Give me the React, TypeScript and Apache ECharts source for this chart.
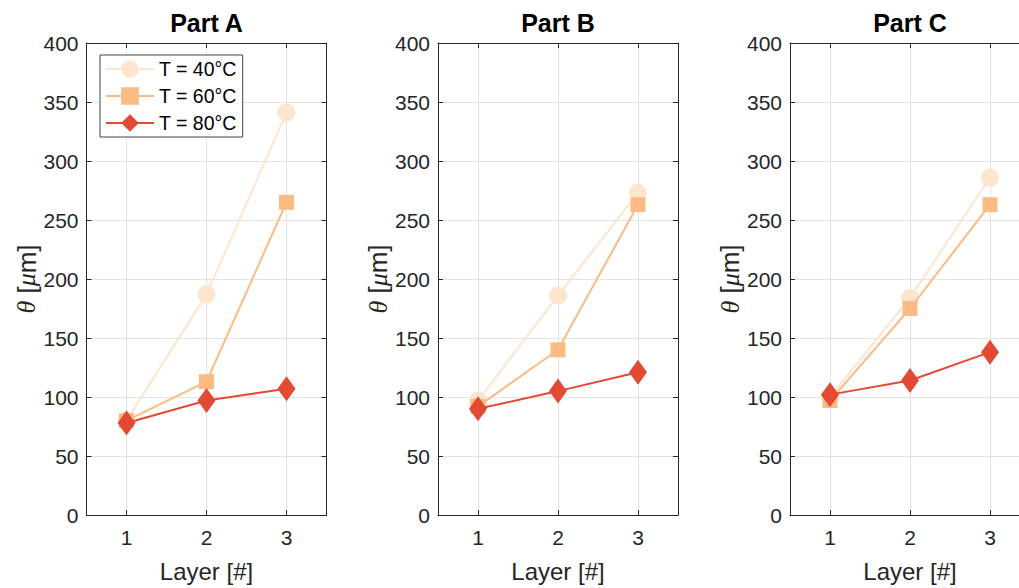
import React, { useEffect, useRef } from 'react';
import * as echarts from 'echarts';

const layers = ['1', '2', '3'];
const panelTitles = ['Part A', 'Part B', 'Part C'];
const seriesNames = ['T = 40°C', 'T = 60°C', 'T = 80°C'];

const partA40 = [80, 187, 341];
const partA60 = [80, 113, 265];
const partA80 = [78, 97, 107];

const partB40 = [97, 186, 273];
const partB60 = [92, 140, 263];
const partB80 = [90, 105, 121];

const partC40 = [100, 184, 286];
const partC60 = [97, 175, 263];
const partC80 = [102, 114, 138];

const yMin = 0;
const yMax = 400;
const yStep = 50;

const panels = [
  [partA40, partA60, partA80],
  [partB40, partB60, partB80],
  [partC40, partC60, partC80],
];

const colors = ['#FEE6CE', '#FDBB84', '#E34A33'];
const symbols = ['circle', 'rect', 'diamond'];
const symbolSizes: any[] = [18, 15, [18, 25]];

const FONT = '"Liberation Sans", Helvetica, Arial, sans-serif';
const AX = '#262626';
const GRIDC = '#e4e4e4';

export default function App() {
  const ref = useRef<HTMLDivElement>(null);
  useEffect(() => {
    const chart = echarts.init(ref.current!, null, { renderer: 'svg' });
    const lefts = [86.5, 438, 790];
    const top = 43;
    const w = 240;
    const h = 474.5;

    const grid: any[] = [];
    const xAxis: any[] = [];
    const yAxis: any[] = [];
    const series: any[] = [];
    const graphic: any[] = [];

    panels.forEach((panel, i) => {
      grid.push({ left: lefts[i], top, width: w, height: h, containLabel: false });
      const tickStyle = { color: AX, width: 1 };
      xAxis.push({
        type: 'category',
        gridIndex: i,
        data: layers,
        boundaryGap: true,
        position: 'bottom',
        axisLine: { show: true, onZero: false, lineStyle: tickStyle },
        axisTick: { show: true, inside: true, alignWithLabel: true, length: 5, lineStyle: tickStyle },
        axisLabel: { fontSize: 21, color: AX, margin: 12, fontFamily: FONT },
        splitLine: { show: true, alignWithLabel: true, lineStyle: { color: GRIDC, width: 1 } },
        name: 'Layer [#]',
        nameLocation: 'middle',
        nameGap: 44,
        nameTextStyle: { fontSize: 24, color: AX, fontFamily: FONT },
      });
      xAxis.push({
        type: 'category',
        gridIndex: i,
        data: layers,
        boundaryGap: true,
        position: 'top',
        axisLine: { show: true, onZero: false, lineStyle: tickStyle },
        axisTick: { show: true, inside: true, alignWithLabel: true, length: 5, lineStyle: tickStyle },
        axisLabel: { show: false },
        splitLine: { show: false },
      });
      yAxis.push({
        type: 'value',
        gridIndex: i,
        min: yMin,
        max: yMax,
        interval: yStep,
        position: 'left',
        axisLine: { show: true, onZero: false, lineStyle: tickStyle },
        axisTick: { show: true, inside: true, length: 5, lineStyle: tickStyle },
        axisLabel: { fontSize: 21, color: AX, margin: 8, fontFamily: FONT },
        splitLine: { show: true, lineStyle: { color: GRIDC, width: 1 } },
        name: '{i|θ} [{i|μ}m]',
        nameLocation: 'middle',
        nameGap: 46,
        nameTextStyle: {
          fontSize: 26,
          color: AX,
          fontFamily: FONT,
          rich: {
            i: { fontSize: 26, fontStyle: 'italic', fontFamily: '"Liberation Serif", "DejaVu Serif", serif', color: AX },
          },
        },
      });
      yAxis.push({
        type: 'value',
        gridIndex: i,
        min: yMin,
        max: yMax,
        interval: yStep,
        position: 'right',
        axisLine: { show: true, onZero: false, lineStyle: tickStyle },
        axisTick: { show: true, inside: true, length: 5, lineStyle: tickStyle },
        axisLabel: { show: false },
        splitLine: { show: false },
      });
      panel.forEach((vals, k) => {
        series.push({
          type: 'line',
          name: seriesNames[k],
          xAxisIndex: 2 * i,
          yAxisIndex: 2 * i,
          data: vals,
          symbol: symbols[k],
          symbolSize: symbolSizes[k],
          showAllSymbol: true,
          itemStyle: { color: colors[k], opacity: 1 },
          lineStyle: { color: colors[k], width: 2 },
          emphasis: { disabled: true },
          z: 2 + k,
        });
      });
      graphic.push({
        type: 'text',
        x: lefts[i] + w / 2,
        y: 22.5,
        style: {
          text: panelTitles[i],
          textAlign: 'center',
          textVerticalAlign: 'middle',
          fontSize: 25,
          fontWeight: 'bold',
          fontFamily: FONT,
          fill: '#000',
        },
      });
    });

    chart.setOption({
      animation: false,
      backgroundColor: '#fff',
      grid,
      xAxis,
      yAxis,
      series,
      graphic,
      legend: {
        show: true,
        data: seriesNames,
        orient: 'vertical',
        left: 100,
        top: 55,
        itemWidth: 48,
        itemHeight: 22,
        itemGap: 7,
        padding: [4, 6, 4, 5],
        borderColor: '#444',
        borderWidth: 1,
        backgroundColor: '#fff',
        textStyle: { fontSize: 19.5, color: '#000', fontFamily: FONT },
        selectedMode: false,
        z: 10,
      },
    });
    return () => chart.dispose();
  }, []);
  return (
    <div style={{ position: 'absolute', left: 0, top: 0, width: 1019, height: 588, overflow: 'hidden' }}>
      <div ref={ref} style={{ width: 1040, height: 588 }} />
    </div>
  );
}
